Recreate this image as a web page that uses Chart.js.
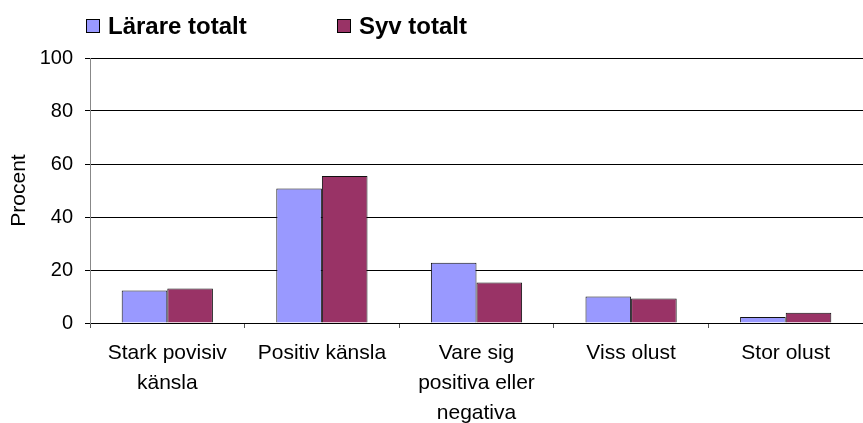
<!DOCTYPE html>
<html>
<head>
<meta charset="utf-8">
<script src="https://cdn.jsdelivr.net/npm/chart.js"></script>
<style>
    body { margin: 0; background: #fff; }
    #wrap { position: relative; width: 863px; height: 423px; }
    .legend-box { position: absolute; width: 12px; height: 12px; border: 1px solid #000; top: 19px; }
    .legend-text {
        position: absolute; top: 12px; line-height: 24px;
        font: bold 24px "Liberation Sans", Arial, sans-serif; color: #000; white-space: nowrap;
    }
</style>
</head>
<body>
<div id="wrap">
    <canvas id="resultsChart"></canvas>
    <div id="legend"></div>
</div>
<script>
const categories = [
    ['Stark povisiv', 'känsla'],
    'Positiv känsla',
    ['Vare sig', 'positiva eller', 'negativa'],
    'Viss olust',
    'Stor olust'
];
const seriesNames = ['Lärare totalt', 'Syv totalt'];
const larareValues = [12.3, 50.8, 22.7, 10.0, 2.3];
const syvValues = [13.0, 55.5, 15.3, 9.2, 3.9];
const yTicks = [0, 20, 40, 60, 80, 100];

const colors = ['#9999ff', '#993366'];
const font = '"Liberation Sans", Arial, sans-serif';

const ctx = document.getElementById('resultsChart').getContext('2d');
// eslint-disable-next-line no-undef
const chart = new Chart(ctx, {
    type: 'bar',
    data: {
        labels: categories,
        datasets: [{
            label: seriesNames[0],
            data: larareValues,
            backgroundColor: colors[0],
            borderColor: '#111',
            borderWidth: 1,
            borderSkipped: 'bottom'
        },
        {
            label: seriesNames[1],
            data: syvValues,
            backgroundColor: colors[1],
            borderColor: '#111',
            borderWidth: 1,
            borderSkipped: 'bottom'
        }]
    },
    options: {
        responsive: true,
        maintainAspectRatio: false,
        animation: false,
        layout: {
            padding: { top: 58, left: 0, right: 0, bottom: 0 }
        },
        datasets: {
            // the two bars of a group sit side by side
            bar: { categoryPercentage: 0.59, barPercentage: 1 }
        },
        plugins: {
            legend: { display: false },
            tooltip: { enabled: false }
        },
        scales: {
            x: {
                offset: true,
                grid: {
                    offset: true,
                    drawOnChartArea: false,
                    tickLength: 5,
                    color: '#555'
                },
                border: { color: '#000', width: 1 },
                ticks: {
                    color: '#000',
                    padding: 10,
                    maxRotation: 0,
                    autoSkip: false,
                    font: { family: font, size: 21, lineHeight: 1.43 }
                },
                afterFit: (scale) => { scale.height = 100; }
            },
            y: {
                min: 0,
                max: 100,
                afterBuildTicks: (scale) => { scale.ticks = yTicks.map(v => ({ value: v })); },
                grid: {
                    color: '#000',
                    tickLength: 5
                },
                border: { color: '#888', width: 1 },
                ticks: {
                    color: '#000',
                    padding: 12,
                    font: { family: font, size: 20 }
                },
                title: {
                    display: true,
                    text: 'Procent',
                    color: '#000',
                    padding: { top: 7, bottom: 4 },
                    font: { family: font, size: 21 }
                },
                afterFit: (scale) => { scale.width = 90; }
            }
        }
    }
});

// legend drawn as html above the canvas
const legend = document.getElementById('legend');
const legendLeft = [86, 337];
chart.data.datasets.forEach((ds, i) => {
    const box = document.createElement('span');
    box.className = 'legend-box';
    box.style.left = legendLeft[i] + 'px';
    box.style.background = ds.backgroundColor;

    const text = document.createElement('span');
    text.className = 'legend-text';
    text.style.left = (legendLeft[i] + 22) + 'px';
    text.textContent = ds.label;

    legend.append(box, text);
});
</script>
</body>
</html>
